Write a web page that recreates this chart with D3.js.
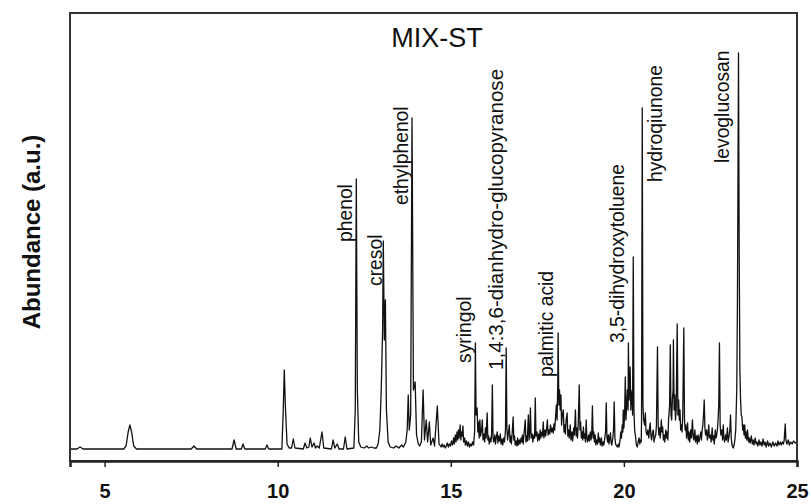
<!DOCTYPE html>
<html>
<head>
<meta charset="utf-8">
<script src="https://cdn.jsdelivr.net/npm/d3@7/dist/d3.min.js"></script>
<style>
  html, body { margin: 0; padding: 0; background: #fff; overflow: hidden; }
  svg { display: block; }
</style>
</head>
<body>
<div id="chart"></div>
<script>
// ---------- DATA ----------
const title = "MIX-ST";
const yAxisTitle = "Abundance (a.u.)";
const xTicks = [5, 10, 15, 20, 25];

// Chromatogram trace: [retention time (min), abundance (a.u.)]
const trace = [
  [4.00,1],[4.20,1],[4.29,3],[4.38,1],
  [5.55,1],[5.62,4],[5.68,18],[5.73,25],[5.78,18],[5.84,4],[5.92,1],
  [7.50,1],[7.58,4],[7.66,1],
  [8.68,1],[8.74,10],[8.80,1],[8.95,1],[9.00,6],[9.05,1],[9.64,1],[9.69,5],[9.74,1],
  [10.12,1],[10.16,40],[10.19,80],[10.22,45],[10.27,6],[10.33,2],[10.40,2],[10.45,11],[10.50,2],
  [10.74,1],[10.79,7],[10.84,2],[10.90,3],[10.94,12],[10.99,3],[11.05,7],[11.09,2],[11.14,4],[11.20,2],[11.28,18],[11.33,2],
  [11.55,1],[11.60,10],[11.65,2],[11.72,6],[11.77,1],[11.90,1],[11.95,13],[12.00,1],
  [12.20,2],[12.24,40],[12.27,271],[12.30,60],[12.34,8],[12.40,3],
  [12.50,2],[12.58,4],[12.62,2],[12.70,3],[12.78,2],[12.85,2],
  [12.90,6],[12.95,20],[12.99,60],[13.03,120],[13.05,209],[13.08,110],[13.11,150],[13.14,40],[13.19,8],[13.25,3],
  [13.35,2],[13.42,4],[13.50,2],[13.58,5],[13.63,3],
  [13.70,8],[13.74,20],[13.77,55],[13.80,20],[13.84,35],[13.88,332],[13.92,60],[13.97,68],[14.01,15],[14.06,6],[14.10,4],
  [14.15,8],[14.20,60],[14.24,10],[14.29,30],[14.33,8],[14.38,28],[14.42,5],[14.49,12],[14.53,4],[14.61,44],[14.66,6],
  [14.72,3],[14.75,6],[14.78,3],[14.81,5],[14.84,2],[14.87,4],[14.90,7],[14.93,3],[14.96,6],[14.99,4],[15.02,9],[15.05,5],
  [15.08,12],[15.10,6],[15.13,15],[15.15,8],[15.18,18],[15.20,10],[15.22,20],[15.24,12],[15.27,25],[15.29,10],[15.31,18],
  [15.33,14],[15.35,24],[15.37,8],[15.40,12],[15.42,5],[15.45,9],[15.48,4],[15.51,8],[15.54,3],[15.57,6],[15.60,4],[15.63,8],[15.66,5],
  [15.69,20],[15.71,107],[15.73,35],[15.76,42],[15.78,18],[15.80,28],[15.82,12],[15.84,30],[15.86,14],[15.89,20],[15.91,30],
  [15.93,10],[15.96,16],[15.98,8],[16.00,22],[16.02,12],[16.05,37],[16.07,10],[16.09,14],[16.11,6],[16.14,12],[16.16,8],
  [16.18,18],[16.20,65],[16.22,12],[16.24,8],[16.27,15],[16.29,6],[16.31,12],[16.34,18],[16.36,7],[16.38,14],[16.41,9],
  [16.43,16],[16.45,6],[16.48,11],[16.50,5],[16.53,12],[16.55,8],
  [16.58,20],[16.60,102],[16.62,22],[16.64,10],[16.66,16],[16.69,25],[16.71,8],[16.73,14],[16.75,6],[16.77,15],[16.80,33],
  [16.82,10],[16.84,14],[16.86,5],[16.89,9],[16.91,4],[16.93,12],[16.95,5],[16.98,10],[17.00,6],[17.03,12],[17.05,8],
  [17.07,15],[17.09,6],[17.12,18],[17.15,30],[17.17,8],[17.19,14],[17.21,9],[17.24,35],[17.26,10],[17.28,18],[17.30,42],
  [17.32,12],[17.35,16],[17.37,8],[17.40,15],[17.42,12],[17.44,52],[17.46,14],[17.49,18],[17.51,9],[17.54,16],[17.56,10],
  [17.58,20],[17.60,12],[17.63,18],[17.65,14],[17.67,28],[17.69,12],[17.72,20],[17.74,14],[17.77,22],[17.79,30],[17.81,15],
  [17.84,20],[17.86,16],[17.88,25],[17.91,18],[17.93,22],[17.96,17],[17.98,26],[18.00,20],[18.03,35],[18.05,45],[18.07,30],
  [18.09,67],[18.10,117],[18.12,45],[18.14,60],[18.16,40],[18.18,55],[18.20,25],[18.22,35],[18.25,40],[18.27,18],[18.29,25],
  [18.31,16],[18.33,30],[18.36,37],[18.38,14],[18.40,20],[18.42,12],[18.45,25],[18.47,10],[18.50,18],[18.52,9],[18.55,22],
  [18.57,15],[18.60,40],[18.62,14],[18.64,22],[18.66,12],[18.68,25],[18.71,65],[18.73,20],[18.75,28],[18.77,12],[18.79,18],
  [18.81,10],[18.83,23],[18.85,12],[18.87,16],[18.89,8],[18.91,30],[18.93,12],[18.95,8],[18.98,15],[19.00,9],[19.03,18],
  [19.05,10],[19.07,16],[19.09,44],[19.11,12],[19.13,18],[19.15,8],[19.17,15],[19.19,5],[19.21,10],[19.24,6],[19.26,17],
  [19.28,8],[19.30,12],[19.32,5],[19.35,12],[19.37,4],[19.40,8],[19.42,5],[19.44,10],[19.47,18],[19.49,47],[19.51,12],
  [19.53,8],[19.55,15],[19.57,6],[19.59,12],[19.61,17],[19.63,8],[19.65,5],[19.68,12],[19.70,20],[19.72,48],[19.74,12],
  [19.76,6],[19.79,4],[19.81,3],[19.84,6],[19.86,3],[19.89,10],[19.91,18],[19.93,12],[19.95,25],[19.97,18],[19.98,40],
  [20.00,22],[20.02,35],[20.04,73],[20.06,30],[20.08,45],[20.10,60],[20.12,40],[20.13,107],[20.15,50],[20.17,65],[20.18,83],
  [20.20,40],[20.22,55],[20.24,60],[20.25,35],
  [20.27,193],[20.29,40],[20.31,20],[20.34,12],[20.36,5],[20.39,3],[20.41,8],[20.44,12],[20.46,6],[20.48,10],[20.50,8],
  [20.51,30],[20.53,342],[20.55,45],[20.57,30],[20.60,25],[20.62,37],[20.64,18],[20.67,15],[20.69,20],[20.72,12],[20.74,22],
  [20.76,27],[20.78,14],[20.80,10],[20.83,18],[20.85,20],[20.87,8],[20.89,12],[20.92,15],[20.94,25],[20.97,103],[20.99,25],
  [21.01,15],[21.03,22],[21.05,12],[21.08,30],[21.10,18],[21.12,23],[21.14,10],[21.16,15],[21.18,8],[21.21,20],[21.23,12],
  [21.25,18],[21.27,10],[21.29,30],[21.32,45],[21.34,105],[21.36,35],[21.38,30],[21.40,50],[21.42,60],[21.43,110],[21.45,40],
  [21.47,55],[21.49,30],[21.51,40],[21.54,126],[21.56,35],[21.58,50],[21.60,30],[21.62,40],[21.64,20],[21.66,25],[21.68,18],
  [21.70,35],[21.73,122],[21.75,30],[21.77,20],[21.79,25],[21.81,12],[21.84,27],[21.86,10],[21.88,18],[21.90,8],[21.93,20],
  [21.95,12],[21.98,30],[22.00,14],[22.02,10],[22.05,20],[22.07,8],[22.10,14],[22.12,6],[22.14,15],[22.17,8],[22.19,12],
  [22.22,18],[22.24,10],[22.26,20],[22.28,25],[22.30,35],[22.32,50],[22.34,22],[22.36,15],[22.39,20],[22.41,10],[22.43,15],
  [22.45,25],[22.47,12],[22.50,15],[22.52,8],[22.55,22],[22.57,10],[22.59,14],[22.61,6],[22.64,20],[22.66,12],[22.68,15],
  [22.70,20],[22.72,30],[22.74,45],[22.76,107],[22.78,25],[22.80,15],[22.83,20],[22.85,10],[22.87,25],[22.89,12],[22.91,8],
  [22.94,15],[22.96,10],[22.99,22],[23.01,8],[23.03,12],[23.06,20],[23.08,35],[23.10,12],[23.12,6],[23.14,3],[23.16,2],
  [23.19,6],[23.21,12],[23.23,20],
  [23.26,60],[23.28,150],[23.31,397],[23.33,200],[23.35,80],[23.37,50],[23.39,35],[23.41,33],[23.43,20],[23.45,25],[23.47,15],
  [23.49,25],[23.51,12],[23.53,18],[23.55,10],[23.57,20],[23.60,8],[23.62,12],[23.65,7],[23.68,14],[23.71,6],[23.73,10],
  [23.76,5],[23.79,12],[23.82,6],[23.84,8],[23.87,4],[23.90,10],[23.93,5],[23.96,8],[23.99,4],[24.02,11],[24.05,5],[24.08,8],
  [24.11,3],[24.15,9],[24.18,4],[24.22,7],[24.26,3],[24.30,8],[24.34,4],[24.38,7],[24.42,4],[24.45,9],[24.48,5],[24.52,8],
  [24.55,5],[24.58,8],[24.61,6],[24.63,10],[24.66,26],[24.68,10],[24.71,6],[24.75,10],[24.78,5],[24.82,8],[24.86,6],[24.90,9],
  [24.95,7],[25.00,8]
];

// Labelled compounds: name, retention time of the peak, abundance level where the label text starts
const compoundNames = ["phenol","cresol","ethylphenol","syringol","1,4:3,6-dianhydro-glucopyranose","palmitic acid","3,5-dihydroxytoluene","hydroqiunone","levoglucosan"];
const compoundRT = [12.27, 13.05, 13.88, 15.71, 16.60, 18.10, 20.27, 20.53, 23.31];
const compoundLabelLevel = [208, 164, 245, 87, 80, 73, 107, 268, 287];

// ---------- LAYOUT ----------
const W = 811, H = 504;
const plot = { left: 70, right: 797, top: 13, bottom: 461 };
const labelDx = [-4, -1.5, -4, -4, -3, -5, -9, 20, -9];
const labelSize = [19.3, 19.3, 19.3, 19.3, 20.6, 19.3, 19.3, 19.3, 19.3];
const FONT = "Arial, 'Liberation Sans', sans-serif";

const svg = d3.select("#chart").append("svg").attr("width", W).attr("height", H);

const xScale = d3.scaleLinear().domain([4, 25]).range([plot.left, plot.right]);
const yScale = d3.scaleLinear().domain([0, 437]).range([450, plot.top]);

svg.append("defs").append("clipPath").attr("id", "clip")
  .append("rect").attr("x", plot.left).attr("y", plot.top)
  .attr("width", plot.right - plot.left).attr("height", plot.bottom - plot.top);

// trace
const line = d3.line().x(d => xScale(d[0])).y(d => yScale(d[1]));
svg.append("path").datum(trace)
  .attr("clip-path", "url(#clip)")
  .attr("d", line)
  .attr("fill", "none")
  .attr("stroke", "#111")
  .attr("stroke-width", 1.3)
  .attr("stroke-linejoin", "round");

// frame
svg.append("rect")
  .attr("x", plot.left).attr("y", plot.top)
  .attr("width", plot.right - plot.left).attr("height", plot.bottom - plot.top)
  .attr("fill", "none").attr("stroke", "#333").attr("stroke-width", 2);

// x axis
const xAxis = svg.append("g")
  .attr("transform", `translate(0,${plot.bottom})`)
  .call(d3.axisBottom(xScale).tickValues(xTicks).tickSize(6).tickFormat(d3.format("d")));
xAxis.select(".domain").attr("stroke", "#222").attr("stroke-width", 2.5);
xAxis.selectAll(".tick line").attr("stroke", "#222").attr("stroke-width", 1.5);
xAxis.selectAll(".tick text")
  .attr("y", 37).attr("dy", 0)
  .attr("fill", "#111")
  .style("font-family", FONT)
  .style("font-size", "20px")
  .style("font-weight", "bold");

// title
svg.append("text")
  .attr("x", 437).attr("y", 47)
  .attr("text-anchor", "middle")
  .style("font-family", FONT)
  .style("font-size", "27px")
  .attr("fill", "#111")
  .text(title);

// y axis title
svg.append("text")
  .attr("transform", "translate(40,232) rotate(-90)")
  .attr("text-anchor", "middle")
  .style("font-family", FONT)
  .style("font-size", "24px")
  .style("font-weight", "bold")
  .attr("fill", "#111")
  .text(yAxisTitle);

// compound labels
svg.append("g").selectAll("text")
  .data(compoundNames)
  .join("text")
  .attr("transform", (d, i) => `translate(${xScale(compoundRT[i]) + labelDx[i]},${yScale(compoundLabelLevel[i])}) rotate(-90)`)
  .attr("text-anchor", "start")
  .style("font-family", FONT)
  .style("font-size", (d, i) => labelSize[i] + "px")
  .attr("fill", "#111")
  .text(d => d);
</script>
</body>
</html>
